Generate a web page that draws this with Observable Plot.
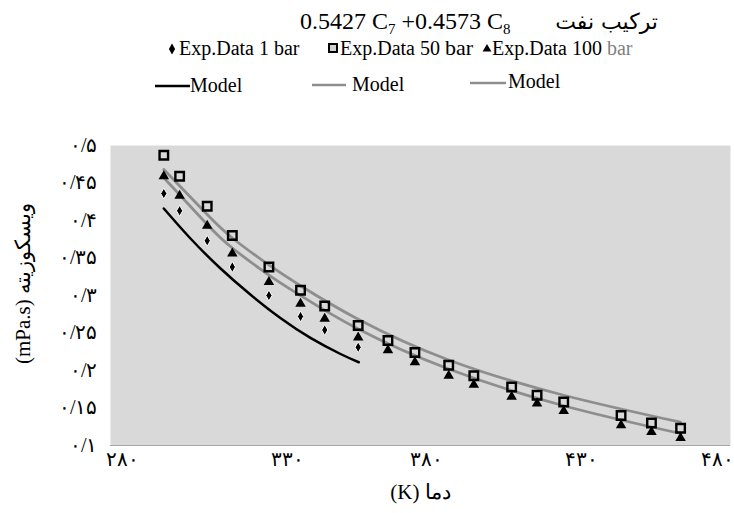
<!DOCTYPE html>
<html><head><meta charset="utf-8">
<script src="https://cdn.jsdelivr.net/npm/d3@7"></script>
<script src="https://cdn.jsdelivr.net/npm/@observablehq/plot@0.6"></script>
<style>
html,body{margin:0;padding:0;background:#fff;}
#chart{position:relative;width:734px;height:513px;overflow:hidden;font-family:"Times New Roman","Liberation Serif",Tinos,"DejaVu Serif",serif;}
#header svg,#plot svg{display:block;}
</style></head><body>
<div id="chart"><div id="header"></div><div id="plot"></div></div>
<script>
// ---- data ----
const titleFormula = ["0.5427 C", "7", " +0.4573 C", "8"];
const titleFa = "ترکیب نفت";
const seriesNames = ["Exp.Data 1 bar", "Exp.Data 50 bar", "Exp.Data 100 bar"];
const modelName = "Model";
const xTitle = "(K) دما";
const yTitle = "(mPa.s) ویسکوزیته";

const xTicks = [280, 330, 380, 430, 480];
const xTickLabels = ["۲۸۰", "۳۳۰", "۳۸۰", "۴۳۰", "۴۸۰"];
const yTicks = [0.1, 0.15, 0.2, 0.25, 0.3, 0.35, 0.4, 0.45, 0.5];
const yTickLabels = ["۰/۱", "۰/۱۵", "۰/۲", "۰/۲۵", "۰/۳", "۰/۳۵", "۰/۴", "۰/۴۵", "۰/۵"];

const exp1T = [297.2, 302.3, 311.2, 319.3, 331.1, 341.3, 349.1, 359.9];
const exp1V = [0.436, 0.413, 0.373, 0.338, 0.300, 0.272, 0.254, 0.231];

const exp50T = [297.2, 302.3, 311.2, 319.3, 331.1, 341.3, 349.1, 359.9, 369.5, 378.2, 389.1, 397.2, 409.4, 417.6, 426.2, 444.7, 454.5, 463.9];
const exp50V = [0.487, 0.459, 0.419, 0.380, 0.338, 0.307, 0.286, 0.260, 0.240, 0.224, 0.207, 0.193, 0.178, 0.167, 0.158, 0.140, 0.130, 0.123];

const exp100T = [297.2, 302.3, 311.2, 319.3, 331.1, 341.3, 349.1, 359.9, 369.5, 378.2, 389.1, 397.2, 409.4, 417.6, 426.2, 444.7, 454.5, 463.9];
const exp100V = [0.459, 0.433, 0.393, 0.356, 0.318, 0.289, 0.269, 0.244, 0.227, 0.211, 0.193, 0.181, 0.165, 0.156, 0.146, 0.127, 0.118, 0.110];

const model1T = [297.2, 305.8, 315.5, 325.2, 334.8, 344.5, 354.2, 360.1];
const model1V = [0.416, 0.376, 0.336, 0.301, 0.270, 0.2435, 0.222, 0.211];

const model50T = [297.2, 311.2, 319.3, 331.1, 341.3, 359.6, 389.1, 426.2, 463.9];
const model50V = [0.468, 0.408, 0.3767, 0.3407, 0.313, 0.269, 0.214, 0.167, 0.131];

const model100T = [297.2, 311.2, 319.3, 331.1, 341.3, 359.6, 389.1, 426.2, 463.9];
const model100V = [0.457, 0.3947, 0.3633, 0.3273, 0.300, 0.256, 0.202, 0.153, 0.116];

// ---- styles ----
const GRAY_LINE = "#8e8e8e";
const BG = "#d9d9d9";
const zip = (T, V) => T.map((t, i) => ({T: t, V: V[i]}));
const serif = '"Times New Roman","Liberation Serif",Tinos,"DejaVu Serif",serif';

// ---- header (title + legend) ----
const W = 734, HH = 100;
const hdr = d3.select("#header").append("svg").attr("width", W).attr("height", HH)
  .attr("font-family", serif);

const t = hdr.append("text").attr("x", 300).attr("y", 29).attr("font-size", 24);
t.append("tspan").text(titleFormula[0]);
t.append("tspan").attr("font-size", 15).attr("dy", 5).text(titleFormula[1]);
t.append("tspan").attr("dy", -5).text(titleFormula[2]);
t.append("tspan").attr("font-size", 15).attr("dy", 5).text(titleFormula[3]);
hdr.append("text").attr("x", 658).attr("y", 29).attr("text-anchor", "end")
  .attr("font-size", 22).attr("font-family", '"DejaVu Sans",sans-serif').text(titleFa);

// row 1
const r1 = 55, fs1 = 20;
hdr.append("path").attr("d", d3.symbol(d3.symbolDiamond, 34)()).attr("transform", `translate(172,${r1 - 6})`).attr("fill", "#000");
hdr.append("text").attr("x", 179).attr("y", r1).attr("font-size", fs1).text(seriesNames[0]);
hdr.append("rect").attr("x", 329).attr("y", r1 - 11).attr("width", 8).attr("height", 8)
  .attr("fill", "#d0d0d0").attr("stroke", "#000").attr("stroke-width", 2);
const t2 = hdr.append("text").attr("x", 340).attr("y", r1).attr("font-size", fs1);
t2.append("tspan").text(seriesNames[1].replace(" bar", " "));
t2.append("tspan").attr("font-size", 22).text("bar");
hdr.append("path").attr("d", d3.symbol(d3.symbolTriangle, 34)()).attr("transform", `translate(487,${r1 - 6})`).attr("fill", "#000");
const t3 = hdr.append("text").attr("x", 492).attr("y", r1).attr("font-size", fs1);
t3.append("tspan").text(seriesNames[2].replace(" bar", " "));
t3.append("tspan").attr("fill", "#808080").text("bar");

// row 2
const fs2 = 20;
const legLines = [
  {x1: 155, x2: 190, y: 86, color: "#000", tx: 190, ty: 92},
  {x1: 312, x2: 346, y: 85, color: GRAY_LINE, tx: 352, ty: 91},
  {x1: 470, x2: 506, y: 83, color: GRAY_LINE, tx: 508, ty: 88}
];
for (const l of legLines) {
  hdr.append("line").attr("x1", l.x1).attr("x2", l.x2).attr("y1", l.y).attr("y2", l.y)
    .attr("stroke", l.color).attr("stroke-width", 2.5);
  hdr.append("text").attr("x", l.tx).attr("y", l.ty).attr("font-size", fs2).text(modelName);
}

// ---- plot ----
const tickFmt = d => xTickLabels[xTicks.indexOf(d)];
const xAxisOpts = {tickSize: 0, tickPadding: 6, fontSize: 20, tickFormat: tickFmt, label: null};
const plot = Plot.plot({
  width: W,
  height: 513 - HH,
  marginTop: 45,
  marginBottom: 68,
  marginLeft: 110,
  marginRight: 4,
  style: {fontFamily: serif, fontSize: "20px", background: "transparent", overflow: "visible"},
  x: {domain: [280, 480]},
  y: {domain: [0.1, 0.5]},
  marks: [
    Plot.frame({fill: BG, stroke: null}),
    Plot.ruleY([0.1], {stroke: "#a6a6a6", strokeWidth: 1}),
    Plot.axisX([xTicks[0]], {...xAxisOpts, dx: 12}),
    Plot.axisX([xTicks[1]], {...xAxisOpts, dx: 22}),
    Plot.axisX(xTicks.slice(2, 4), {...xAxisOpts, dx: 6}),
    Plot.axisX([xTicks[4]], {...xAxisOpts, dx: 3, textAnchor: "end"}),
    Plot.axisY(yTicks, {tickSize: 0, tickPadding: 13, fontSize: 20,
      tickFormat: d => yTickLabels[yTicks.indexOf(d)], label: null}),
    Plot.line(zip(model1T, model1V), {x: "T", y: "V", stroke: "#000", strokeWidth: 2.5, curve: "natural"}),
    Plot.line(zip(model50T, model50V), {x: "T", y: "V", stroke: GRAY_LINE, strokeWidth: 2.8, curve: "natural"}),
    Plot.line(zip(model100T, model100V), {x: "T", y: "V", stroke: GRAY_LINE, strokeWidth: 2.8, curve: "natural"}),
    Plot.dot(zip(exp1T, exp1V), {x: "T", y: "V", symbol: "diamond", r: 3.3, fill: "#000", stroke: "#fff", strokeWidth: 1}),
    Plot.dot(zip(exp50T, exp50V), {x: "T", y: "V", symbol: "square", r: 4.8, fill: "none", stroke: "#000", strokeWidth: 2.4}),
    Plot.dot(zip(exp100T, exp100V), {x: "T", y: "V", symbol: "triangle", r: 3.9, fill: "#000"}),
    Plot.text([yTitle], {frameAnchor: "left", textAnchor: "middle", lineAnchor: "middle", rotate: -90, dx: -87, dy: -12, fontSize: 21}),
    Plot.text([xTitle], {frameAnchor: "bottom", textAnchor: "middle", lineAnchor: "middle", dy: 47, fontSize: 21})
  ]
});
document.getElementById("plot").appendChild(plot);
</script>
</body></html>
